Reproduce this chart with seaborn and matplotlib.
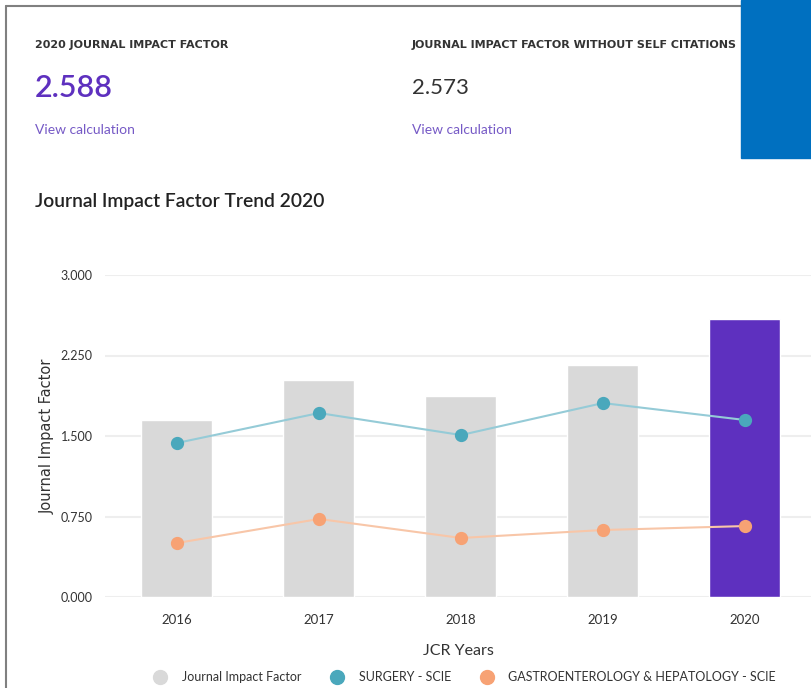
import matplotlib
matplotlib.use("Agg")
import matplotlib.pyplot as plt
from matplotlib.lines import Line2D
from matplotlib.patches import Rectangle
import seaborn as sns
import pandas as pd

# data
years = ["2016", "2017", "2018", "2019", "2020"]
jif = [1.649, 2.022, 1.873, 2.161, 2.588]
surgery = [1.435, 1.714, 1.509, 1.807, 1.649]
gastro = [0.503, 0.727, 0.550, 0.624, 0.661]
yticks = [0.0, 0.75, 1.5, 2.25, 3.0]

sns.set_style("white")
plt.rcParams['font.family'] = ['Lato', 'DejaVu Sans']

purple = "#5e30bf"
bar_cols = ["#d9d9d9"] * 4 + [purple]
teal, teal_line = "#4aa8bc", "#95cbd7"
orange, orange_line = "#f7a274", "#f8c6a8"

df = pd.DataFrame({"year": years, "jif": jif, "surgery": surgery, "gastro": gastro})

fig = plt.figure(figsize=(8.12, 6.88), dpi=100)
ax = fig.add_axes([105 / 812, 91 / 688, 707 / 812, 322 / 688])

sns.barplot(data=df, x="year", y="jif", hue="year", palette=bar_cols,
            legend=False, width=0.5, saturation=1, ax=ax, zorder=2)
sns.pointplot(data=df, x="year", y="surgery", color=teal_line, markersize=0,
              linewidth=1.5, ax=ax, zorder=3)
sns.pointplot(data=df, x="year", y="surgery", color=teal, linestyle="none",
              markersize=7.5, ax=ax, zorder=4)
sns.pointplot(data=df, x="year", y="gastro", color=orange_line, markersize=0,
              linewidth=1.5, ax=ax, zorder=3)
sns.pointplot(data=df, x="year", y="gastro", color=orange, linestyle="none",
              markersize=7.5, ax=ax, zorder=4)

ax.set_xlim(-0.507, 4.472)
ax.set_ylim(0, 3.0)
ax.set_yticks(yticks)
ax.set_yticklabels([f"{v:.3f}" for v in yticks])
ax.yaxis.grid(True, color="#eeeeee", linewidth=1.5, zorder=0)
ax.set_axisbelow(True)
for s in ax.spines.values():
    s.set_visible(False)
ax.tick_params(axis="y", length=0, pad=9, labelsize=9, labelcolor="#333333")
ax.tick_params(axis="x", length=0, pad=12, labelsize=9.5, labelcolor="#333333")
ax.set_xlabel("JCR Years", fontsize=11.5, color="#333333", labelpad=13)
ax.set_ylabel("Journal Impact Factor", fontsize=10.5, color="#333333",
              family="DejaVu Sans", labelpad=4)

# header texts
fig.text(35 / 812, 1 - 45 / 688, "2020 JOURNAL IMPACT FACTOR", fontsize=8,
         family="DejaVu Sans", weight="bold", color="#333333", va="center")
fig.text(35 / 812, 1 - 88 / 688, "2.588", fontsize=22, weight="semibold",
         color=purple, va="center")
fig.text(35 / 812, 1 - 130 / 688, "View calculation", fontsize=10,
         color="#765ac6", va="center")
fig.text(412 / 812, 1 - 45 / 688, "JOURNAL IMPACT FACTOR WITHOUT SELF CITATIONS",
         fontsize=8, family="DejaVu Sans", weight="bold", color="#333333",
         va="center")
fig.text(412 / 812, 1 - 88 / 688, "2.573", fontsize=16, color="#333333",
         va="center")
fig.text(412 / 812, 1 - 130 / 688, "View calculation", fontsize=10,
         color="#765ac6", va="center")
fig.text(35 / 812, 1 - 201 / 688, "Journal Impact Factor Trend 2020",
         fontsize=13.9, weight="semibold", color="#222222", va="center")

# card border and blue block
fig.add_artist(Line2D([6 / 812, 6 / 812], [0, 1 - 6 / 688], color="#808080", lw=1.5))
fig.add_artist(Line2D([6 / 812, 1], [1 - 6 / 688, 1 - 6 / 688], color="#808080", lw=1.5))
fig.add_artist(Rectangle((741 / 812, 1 - 158 / 688), 71 / 812, 158 / 688,
                         color="#0070c0", zorder=10))

handles = [
    Line2D([], [], marker="o", linestyle="none", color="#d9d9d9", markersize=10),
    Line2D([], [], marker="o", linestyle="none", color=teal, markersize=10),
    Line2D([], [], marker="o", linestyle="none", color=orange, markersize=10),
]
labels = ["Journal Impact Factor", "SURGERY - SCIE", "GASTROENTEROLOGY & HEPATOLOGY - SCIE"]
fig.legend(handles, labels, loc="center", bbox_to_anchor=(462 / 812, 11 / 688),
           ncol=3, frameon=False, fontsize=9, handletextpad=0.7,
           columnspacing=1.9, labelcolor="#333333")

fig.savefig("out.png", dpi=100)
